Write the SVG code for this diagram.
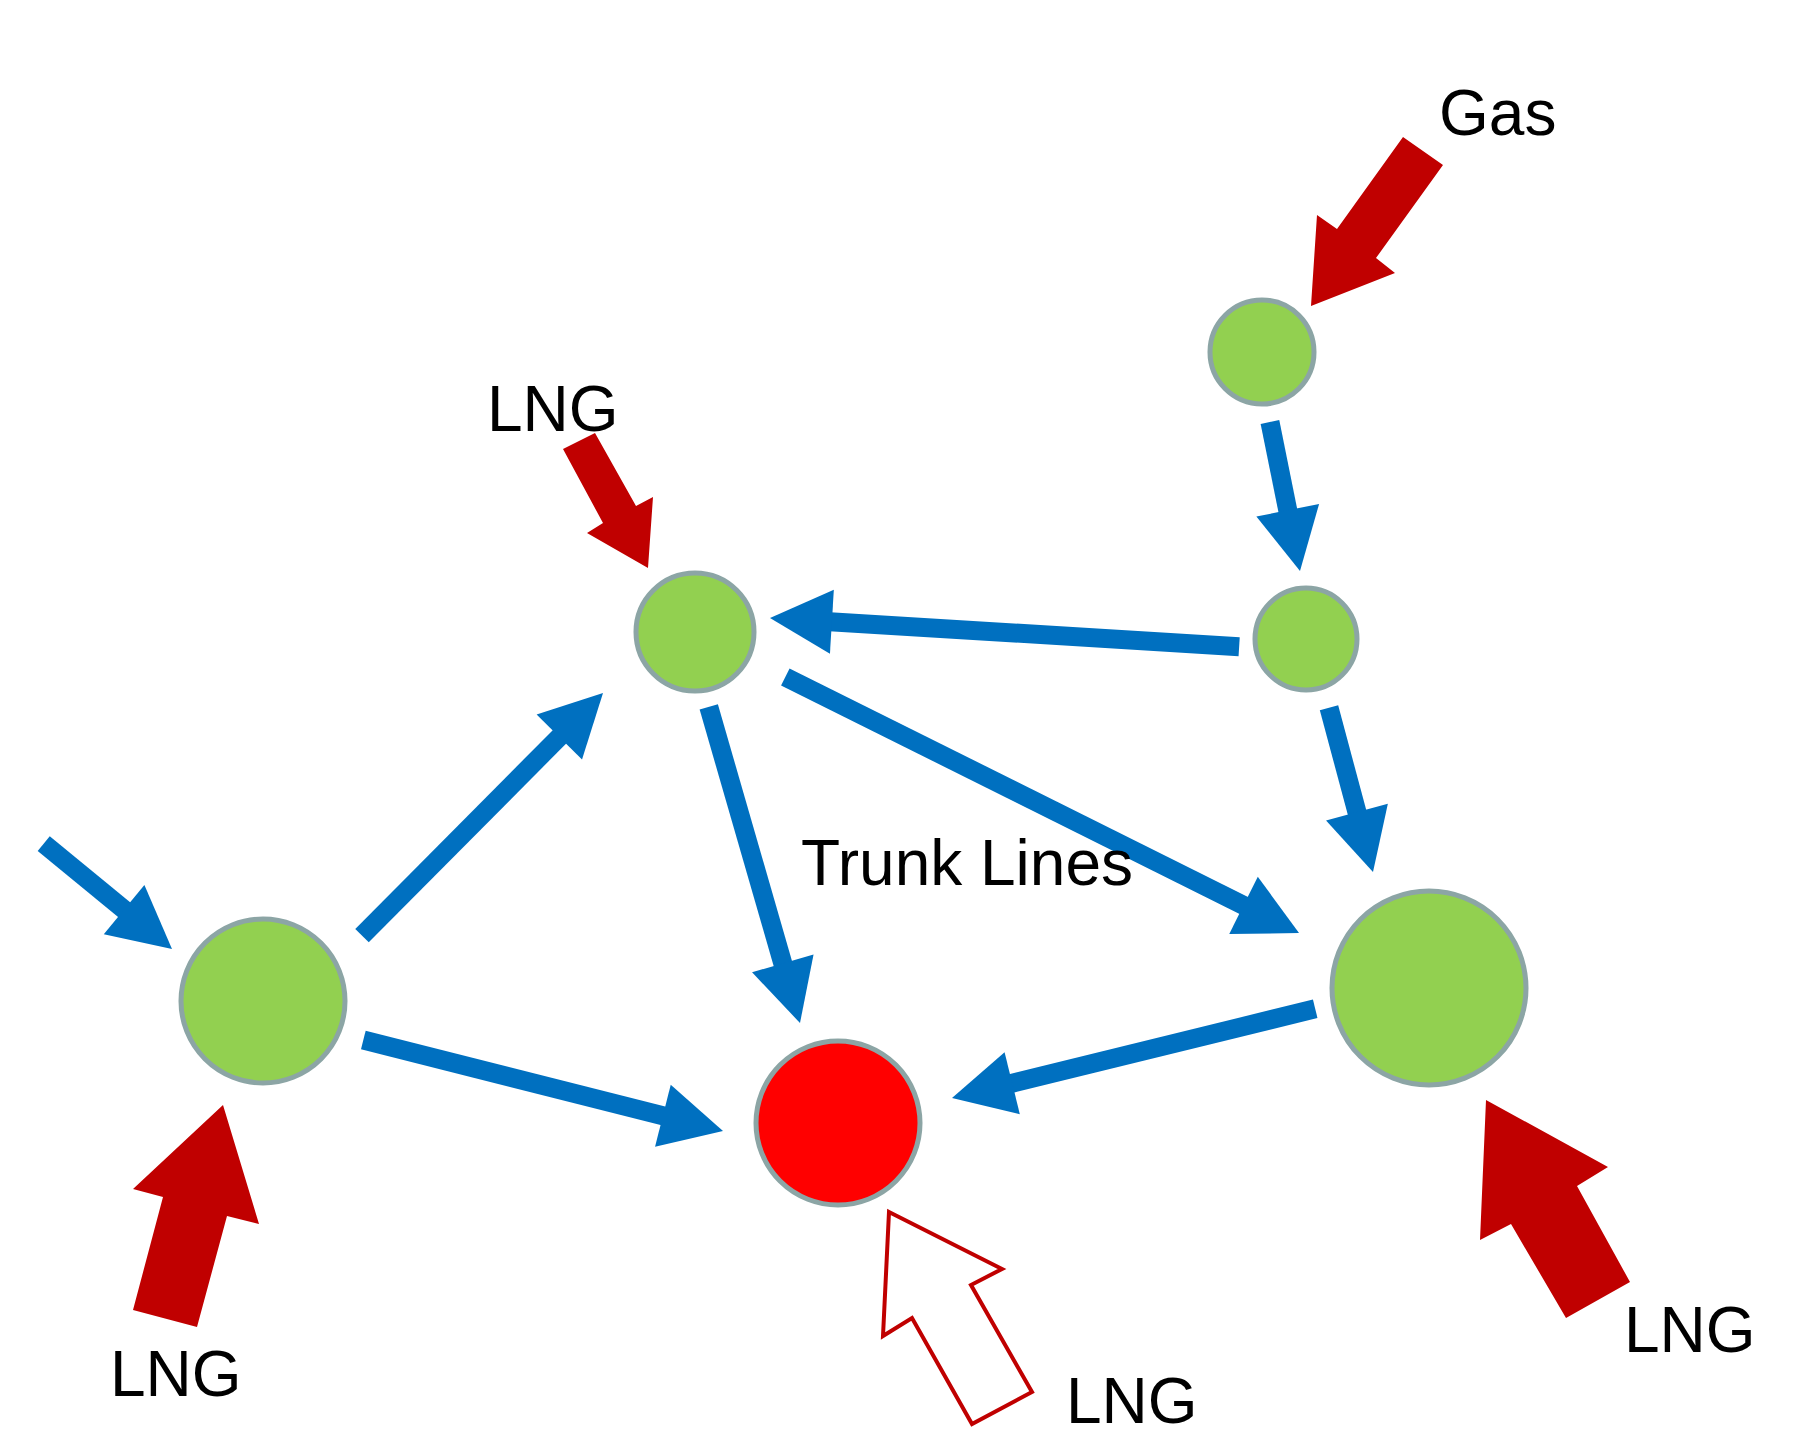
<svg xmlns="http://www.w3.org/2000/svg" xmlns:xlink="http://www.w3.org/1999/xlink" width="1811" height="1436" viewBox="0 0 1811 1436">
  <style>
    .node { stroke: #8ca5a5; stroke-width: 5; }
    .supply { fill: #92d050; }
    .demand { fill: #ff0000; }
    .pipe { fill: #0070c0; }
    .lng { fill: #c00000; }
    .lng-open { fill: #ffffff; stroke: #c00000; stroke-width: 4; stroke-linejoin: miter; }
    .label { font-family: "Liberation Sans", Arial, sans-serif; font-size: 64px; fill: #000000; }
  </style>
  <defs>
    <!-- arrowhead pointing along +x with its tip at the origin -->
    <polygon id="head" points="0,0 -62,-32 -62,32"/>
  </defs>
  <rect width="1811" height="1436" fill="#ffffff"/>

  <!-- pipeline connectors -->
  <g id="connectors" class="pipe">
    <g transform="translate(1300,571) rotate(78.6)"><rect x="-152" y="-9.5" width="92" height="19"/><use xlink:href="#head"/></g>
    <g transform="translate(770,618) rotate(183.5)"><rect x="-470" y="-9.5" width="410" height="19"/><use xlink:href="#head"/></g>
    <g transform="translate(1299,933) rotate(26.5)"><rect x="-574" y="-9.5" width="514" height="19"/><use xlink:href="#head"/></g>
    <g transform="translate(1373,872) rotate(75)"><rect x="-170" y="-9.5" width="110" height="19"/><use xlink:href="#head"/></g>
    <g transform="translate(800,1023) rotate(73.9)"><rect x="-329" y="-9.5" width="269" height="19"/><use xlink:href="#head"/></g>
    <g transform="translate(603,693) rotate(-45.2)"><rect x="-342" y="-9.5" width="282" height="19"/><use xlink:href="#head"/></g>
    <g transform="translate(723,1131) rotate(14.2)"><rect x="-371" y="-9.5" width="311" height="19"/><use xlink:href="#head"/></g>
    <g transform="translate(952,1098) rotate(166.2)"><rect x="-374" y="-9.5" width="314" height="19"/><use xlink:href="#head"/></g>
    <g transform="translate(172,949) rotate(39.4)"><rect x="-166" y="-9.5" width="106" height="19"/><use xlink:href="#head"/></g>
  </g>

  <!-- gas / LNG supply arrows -->
  <g id="supply-arrows">
    <polygon class="lng" points="1403,137 1443,165 1376,258 1395,273 1311,306 1317,215 1337,229"/>
    <polygon class="lng" points="563,449 595,433 636,506 653,497 648,568 587,533 603,523"/>
    <polygon class="lng" points="223,1105 259,1224 227,1216 197,1327 133,1310 163,1197 133,1189"/>
    <polygon class="lng" points="1486,1100 1608,1167 1577,1186 1630,1282 1566,1318 1511,1224 1480,1240"/>
    <polygon class="lng-open" points="889,1212 1002,1269 971,1285 1032,1392 972,1424 912,1318 883,1336"/>
  </g>

  <!-- nodes -->
  <g id="node-gas"><circle class="node supply" cx="1262" cy="352" r="52"/></g>
  <g id="node-junction"><circle class="node supply" cx="1306" cy="639" r="51"/></g>
  <g id="node-lng-top"><circle class="node supply" cx="695" cy="632" r="59"/></g>
  <g id="node-left"><circle class="node supply" cx="263" cy="1001" r="82"/></g>
  <g id="node-right"><circle class="node supply" cx="1429" cy="988" r="97"/></g>
  <g id="node-demand"><circle class="node demand" cx="838" cy="1123" r="82"/></g>

  <!-- labels -->
  <g id="labels" class="label">
    <text x="1439" y="135">Gas</text>
    <text x="487" y="431">LNG</text>
    <text x="801" y="885">Trunk Lines</text>
    <text x="110" y="1396">LNG</text>
    <text x="1066" y="1423">LNG</text>
    <text x="1624" y="1352">LNG</text>
  </g>
</svg>
